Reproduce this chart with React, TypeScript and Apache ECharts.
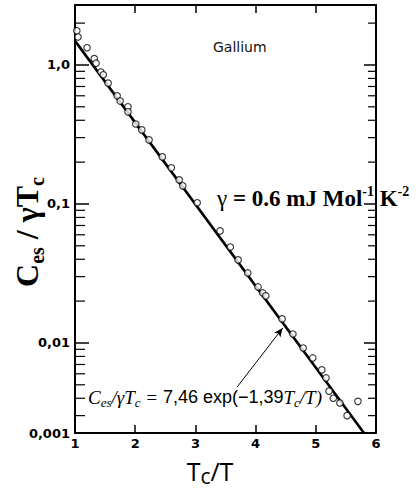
import React, { useEffect, useRef } from "react";
import * as echarts from "echarts";

// ---- data ----
const tcOverT = [1.03, 1.05, 1.2, 1.32, 1.35, 1.43, 1.47, 1.55, 1.7, 1.75, 1.88, 1.88, 2.01, 2.11, 2.23, 2.45, 2.6, 2.73, 2.79, 3.03, 3.41, 3.58, 3.71, 3.87, 4.04, 4.12, 4.17, 4.44, 4.62, 4.79, 4.95, 5.1, 5.17, 5.22, 5.29, 5.4, 5.52, 5.7];
const cesRatio = [1.76, 1.59, 1.33, 1.11, 1.03, 0.89, 0.85, 0.74, 0.6, 0.55, 0.5, 0.46, 0.376, 0.341, 0.289, 0.218, 0.182, 0.149, 0.135, 0.102, 0.064, 0.049, 0.0396, 0.0319, 0.0253, 0.0229, 0.0218, 0.0149, 0.0116, 0.0092, 0.0078, 0.0064, 0.0056, 0.0045, 0.004, 0.0037, 0.003, 0.0038];

const fitX = [1, 5.8];
const fitY = [1.49, 0.00225];

const arrowFrom = [3.69, 0.0048];
const arrowTo = [4.45, 0.0128];

const xMin = 1;
const xMax = 6;
const yMin = 0.00225;
const yMax = 2.7;
const yDecades = [0.01, 0.1, 1];
const yDecadeLabels = ["0,01", "0,1", "1,0"];
const yBottomLabel = "0,001";
const minorTicks = [2, 0.9, 0.8, 0.7, 0.6, 0.5, 0.4, 0.3, 0.2, 0.09, 0.08, 0.07, 0.06, 0.05, 0.04, 0.03, 0.02, 0.009, 0.008, 0.007, 0.006, 0.005, 0.004, 0.003];

export default function App() {
  const ref = useRef<HTMLDivElement>(null);
  useEffect(() => {
    if (!ref.current) return;
    const chart = echarts.init(ref.current, null, { renderer: "svg" });
    const axisLine = { show: true, lineStyle: { color: "#000", width: 2 } };
    const labelFont = { color: "#000", fontFamily: "DejaVu Sans", fontWeight: "bold" as const, fontSize: 13 };
    const yFormatter = (v: number) => {
      if (Math.abs(v - yMin) / yMin < 0.01) return yBottomLabel;
      for (let i = 0; i < yDecades.length; i++) {
        if (Math.abs(v - yDecades[i]) / yDecades[i] < 0.01) return yDecadeLabels[i];
      }
      return "";
    };
    chart.setOption({
      animation: false,
      backgroundColor: "#fff",
      grid: { left: 75, right: 40, top: 5, bottom: 62, containLabel: false },
      xAxis: [
        {
          type: "value",
          min: xMin,
          max: xMax,
          interval: 1,
          position: "bottom",
          axisLine,
          axisTick: { show: true, inside: true, length: 8, lineStyle: { color: "#000", width: 1.5 } },
          axisLabel: { ...labelFont, margin: 4 },
          splitLine: { show: false },
        },
        {
          type: "value",
          min: xMin,
          max: xMax,
          interval: 1,
          position: "top",
          axisLine,
          axisTick: { show: true, inside: true, length: 8, lineStyle: { color: "#000", width: 1.5 } },
          axisLabel: { show: false },
          splitLine: { show: false },
        },
      ],
      yAxis: [
        {
          type: "log",
          logBase: 10,
          min: yMin,
          max: yMax,
          position: "left",
          axisLine,
          axisTick: { show: true, inside: true, length: 14, lineStyle: { color: "#000", width: 1.5 } },
          axisLabel: { ...labelFont, margin: 5, showMinLabel: true, showMaxLabel: false, formatter: yFormatter },
          splitLine: { show: false },
          minorTick: { show: false },
        },
        {
          type: "log",
          logBase: 10,
          min: yMin,
          max: yMax,
          position: "right",
          axisLine,
          axisTick: { show: true, inside: true, length: 12, lineStyle: { color: "#000", width: 1.5 } },
          axisLabel: { show: false },
          splitLine: { show: false },
        },
      ],
      graphic: [
        {
          type: "text",
          left: 213,
          top: 40,
          style: { text: "Gallium", font: "14px 'DejaVu Sans'", fill: "#111" },
        },
        {
          type: "text",
          x: 217,
          y: 197,
          style: {
            text: "{g|γ}{b| = 0.6 mJ Mol}{sup|-1}{b| K}{sup|-2}",
            verticalAlign: "middle",
            rich: {
              g: { fontFamily: "Liberation Serif", fontSize: 23, fill: "#000", lineHeight: 26, verticalAlign: "bottom" },
              b: { fontFamily: "Liberation Serif", fontWeight: "bold", fontSize: 23, fill: "#000", lineHeight: 26, verticalAlign: "bottom" },
              sup: { fontFamily: "Liberation Serif", fontWeight: "bold", fontSize: 14, fill: "#000", lineHeight: 26, verticalAlign: "top" },
            },
          },
        },
        {
          type: "text",
          x: 88,
          y: 397,
          style: {
            text: "{i|C}{is|es}{i|/γT}{is|c}{i| = }{s|7,46 exp(−1,39}{i|T}{is|c}{i|/T)}",
            verticalAlign: "middle",
            rich: {
              i: { fontFamily: "Liberation Serif", fontStyle: "italic", fontSize: 19, fill: "#000", lineHeight: 24, verticalAlign: "middle" },
              is: { fontFamily: "Liberation Serif", fontStyle: "italic", fontSize: 13, fill: "#000", lineHeight: 9, verticalAlign: "bottom" },
              s: { fontFamily: "Liberation Sans", fontSize: 18, fill: "#000", lineHeight: 24, verticalAlign: "middle" },
            },
          },
        },
        {
          type: "text",
          x: 210,
          y: 471,
          style: {
            text: "{t|T}{c|c}{t|/T}",
            align: "center",
            verticalAlign: "middle",
            rich: {
              t: { fontFamily: "Open Sans", fontSize: 25, fill: "#000", lineHeight: 30, verticalAlign: "middle" },
              c: { fontFamily: "Open Sans", fontSize: 21, fill: "#000", lineHeight: 26, verticalAlign: "bottom" },
            },
          },
        },
        {
          type: "text",
          x: 27,
          y: 232,
          rotation: Math.PI / 2,
          style: {
            text: "{b|C}{s|es}{b| / γT}{s|c}",
            align: "center",
            verticalAlign: "middle",
            rich: {
              b: { fontFamily: "Liberation Serif", fontWeight: "bold", fontSize: 32, fill: "#000", lineHeight: 40, verticalAlign: "middle" },
              s: { fontFamily: "Liberation Serif", fontWeight: "bold", fontSize: 20, fill: "#000", lineHeight: 13, verticalAlign: "bottom" },
            },
          },
        },
      ],
      series: [
        {
          type: "custom",
          xAxisIndex: 0,
          yAxisIndex: 0,
          silent: true,
          clip: false,
          data: minorTicks.map((v) => [xMin, v]),
          renderItem: (_params: any, api: any) => {
            const v = api.value(1);
            const l = api.coord([xMin, v]);
            const r = api.coord([xMax, v]);
            return {
              type: "group",
              children: [
                { type: "line", shape: { x1: l[0], y1: l[1], x2: l[0] + 10, y2: l[1] }, style: { stroke: "#000", lineWidth: 1.2 } },
                { type: "line", shape: { x1: r[0], y1: r[1], x2: r[0] - 8, y2: r[1] }, style: { stroke: "#000", lineWidth: 1.2 } },
              ],
            };
          },
        },
        {
          type: "line",
          data: fitX.map((x, i) => [x, fitY[i]]),
          symbol: "none",
          lineStyle: { color: "#000", width: 2.6 },
          silent: true,
          markLine: {
            silent: true,
            symbol: ["none", "arrow"],
            symbolSize: [6, 9],
            label: { show: false },
            lineStyle: { color: "#000", width: 1, type: "solid" },
            data: [[{ coord: arrowFrom }, { coord: arrowTo }]],
          },
        },
        {
          type: "scatter",
          data: tcOverT.map((x, i) => [x, cesRatio[i]]),
          symbol: "circle",
          symbolSize: 6.5,
          itemStyle: { color: "#fff", borderColor: "#000", borderWidth: 1.1 },
          silent: true,
          z: 3,
        },
      ],
    });
    return () => chart.dispose();
  }, []);
  return <div ref={ref} style={{ position: "absolute", left: 0, top: 0, width: 416, height: 495 }} />;
}
